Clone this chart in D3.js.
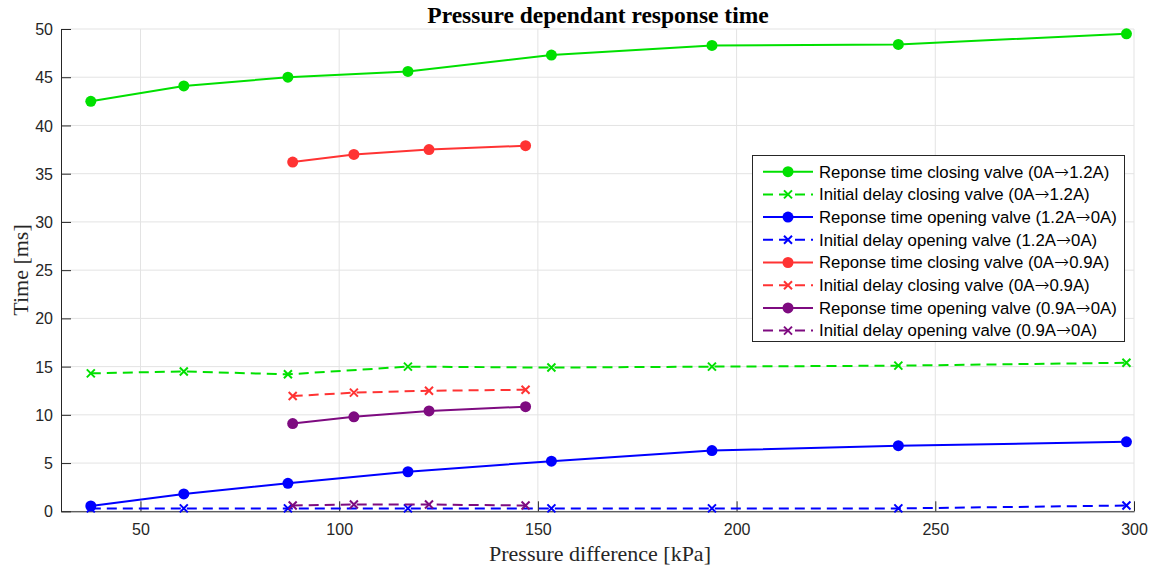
<!DOCTYPE html>
<html>
<head>
<meta charset="utf-8">
<script src="https://cdn.jsdelivr.net/npm/d3@7"></script>
<style>
  body { margin: 0; background: #fff; }
</style>
</head>
<body>
<div id="viz1"></div>
<script>
// pressure points (kPa)
let pressure12 = [37.5, 60.9, 87.1, 117.3, 153.4, 193.8, 240.7, 298.1];
let pressure09 = [88.3, 103.7, 122.6, 146.9];

// times (ms)
let respClose12 = [42.5, 44.1, 45.0, 45.6, 47.3, 48.3, 48.4, 49.5];
let delayClose12 = [14.3, 14.5, 14.2, 15.0, 14.9, 15.0, 15.1, 15.4];
let respOpen12 = [0.55, 1.8, 2.9, 4.1, 5.2, 6.3, 6.8, 7.2];
let delayOpen12 = [0.3, 0.3, 0.3, 0.3, 0.3, 0.3, 0.3, 0.6];
let respClose09 = [36.2, 37.0, 37.5, 37.9];
let delayClose09 = [11.95, 12.3, 12.5, 12.6];
let respOpen09 = [9.1, 9.8, 10.4, 10.85];
let delayOpen09 = [0.6, 0.7, 0.7, 0.6];

let xTicks = [50, 100, 150, 200, 250, 300];
let yTicks = [0, 5, 10, 15, 20, 25, 30, 35, 40, 45, 50];

// legend labels split round the arrow: [before, after]
let seriesNames = [
  ["Reponse time closing valve (0A", "1.2A)"],
  ["Initial delay closing valve (0A", "1.2A)"],
  ["Reponse time opening valve (1.2A", "0A)"],
  ["Initial delay opening valve (1.2A", "0A)"],
  ["Reponse time closing valve (0A", "0.9A)"],
  ["Initial delay closing valve (0A", "0.9A)"],
  ["Reponse time opening valve (0.9A", "0A)"],
  ["Initial delay opening valve (0.9A", "0A)"]
];

let w = 1153;
let h = 569;
let padLeft = 61, padRight = 1134, padTop = 29, padBottom = 511.3;

let colGreen = "#00e000", colBlue = "#0000ff", colRed = "#ff3333", colPurple = "#7e0b80";

let series = [
  { name: seriesNames[0], xs: pressure12, ys: respClose12, color: colGreen, dashed: false },
  { name: seriesNames[1], xs: pressure12, ys: delayClose12, color: colGreen, dashed: true },
  { name: seriesNames[2], xs: pressure12, ys: respOpen12, color: colBlue, dashed: false },
  { name: seriesNames[3], xs: pressure12, ys: delayOpen12, color: colBlue, dashed: true },
  { name: seriesNames[4], xs: pressure09, ys: respClose09, color: colRed, dashed: false },
  { name: seriesNames[5], xs: pressure09, ys: delayClose09, color: colRed, dashed: true },
  { name: seriesNames[6], xs: pressure09, ys: respOpen09, color: colPurple, dashed: false },
  { name: seriesNames[7], xs: pressure09, ys: delayOpen09, color: colPurple, dashed: true }
];

let viz = d3.select("#viz1")
  .append("svg")
    .attr("width", w)
    .attr("height", h)
    .style("display", "block")
;

let xScale = d3.scaleLinear().domain([30, 300]).range([padLeft, padRight]);
let yScale = d3.scaleLinear().domain([0, 50]).range([padBottom, padTop]);

// grid
let grid = viz.append("g").attr("class", "grid");
grid.selectAll(".gx").data(xTicks).enter()
  .append("line")
    .attr("x1", d => xScale(d)).attr("x2", d => xScale(d))
    .attr("y1", padTop).attr("y2", padBottom)
    .attr("stroke", "#e3e3e3").attr("stroke-width", 1);
grid.selectAll(".gy").data(yTicks).enter()
  .append("line")
    .attr("x1", padLeft).attr("x2", padRight)
    .attr("y1", d => yScale(d)).attr("y2", d => yScale(d))
    .attr("stroke", "#e3e3e3").attr("stroke-width", 1);

// axes (ticks point inward like matlab)
let xAxisGroup = viz.append("g").attr("class", "xAxisGroup")
  .attr("transform", "translate(0," + padBottom + ")");
xAxisGroup.call(d3.axisBottom(xScale).tickValues(xTicks).tickSize(-10).tickSizeOuter(0).tickPadding(12));
let yAxisGroup = viz.append("g").attr("class", "yAxisGroup")
  .attr("transform", "translate(" + padLeft + ",0)");
yAxisGroup.call(d3.axisLeft(yScale).tickValues(yTicks).tickSize(-10).tickSizeOuter(0).tickPadding(8));

viz.selectAll(".xAxisGroup path, .yAxisGroup path, .xAxisGroup line, .yAxisGroup line")
  .attr("stroke", "#262626");
viz.selectAll(".xAxisGroup text, .yAxisGroup text")
  .attr("fill", "#262626")
  .style("font-family", "'Liberation Sans', Arial, sans-serif")
  .style("font-size", "16px");
yAxisGroup.selectAll("text").attr("dy", "0.35em");

// lines + markers
let lineMaker = d3.line()
  .x(d => xScale(d[0]))
  .y(d => yScale(d[1]));

let graphGroup = viz.append("g").attr("class", "graphGroup");

series.forEach(s => {
  let pts = s.xs.map((x, i) => [x, s.ys[i]]);
  graphGroup.append("path")
    .attr("d", lineMaker(pts))
    .attr("fill", "none")
    .attr("stroke", s.color)
    .attr("stroke-width", 2)
    .attr("stroke-dasharray", s.dashed ? "10,6" : null);
  if (s.dashed) {
    graphGroup.selectAll(null).data(pts).enter()
      .append("path")
        .attr("d", "M-4,-4L4,4M-4,4L4,-4")
        .attr("transform", d => "translate(" + xScale(d[0]) + "," + yScale(d[1]) + ")")
        .attr("stroke", s.color)
        .attr("stroke-width", 2)
        .attr("fill", "none");
  } else {
    graphGroup.selectAll(null).data(pts).enter()
      .append("circle")
        .attr("cx", d => xScale(d[0]))
        .attr("cy", d => yScale(d[1]))
        .attr("r", 5.5)
        .attr("fill", s.color);
  }
});

// title and labels
viz.append("text")
  .attr("x", 598).attr("y", 23)
  .attr("text-anchor", "middle")
  .style("font-family", "'Liberation Serif', 'Times New Roman', serif")
  .style("font-weight", "bold")
  .style("font-size", "23.5px")
  .text("Pressure dependant response time");

viz.append("text")
  .attr("x", 600).attr("y", 561)
  .attr("text-anchor", "middle")
  .attr("fill", "#262626")
  .style("font-family", "'Liberation Serif', 'Times New Roman', serif")
  .style("font-size", "22px")
  .text("Pressure difference [kPa]");

viz.append("text")
  .attr("transform", "rotate(-90)")
  .attr("x", -270).attr("y", 28)
  .attr("text-anchor", "middle")
  .attr("fill", "#262626")
  .style("font-family", "'Liberation Serif', 'Times New Roman', serif")
  .style("font-size", "22px")
  .text("Time [ms]");

// legend
let legend = viz.append("g").attr("class", "legend");
legend.append("rect")
  .attr("x", 752.5).attr("y", 155.5)
  .attr("width", 372).attr("height", 186)
  .attr("fill", "#fff")
  .attr("stroke", "#262626")
  .attr("stroke-width", 1);

let rows = legend.selectAll(".row").data(series).enter()
  .append("g")
    .attr("class", "row")
    .attr("transform", (d, i) => "translate(0," + (171.7 + i * 22.7) + ")");

rows.append("line")
  .attr("x1", 763).attr("x2", 813)
  .attr("y1", 0).attr("y2", 0)
  .attr("stroke", d => d.color)
  .attr("stroke-width", 2)
  .attr("stroke-dasharray", d => d.dashed ? "10,6" : null);
rows.filter(d => !d.dashed).append("circle")
  .attr("cx", 788).attr("cy", 0).attr("r", 5.5)
  .attr("fill", d => d.color);
rows.filter(d => d.dashed).append("path")
  .attr("d", "M784,-4L792,4M784,4L792,-4")
  .attr("stroke", d => d.color)
  .attr("stroke-width", 2);

let legendText = rows.append("text")
  .attr("x", 819).attr("y", 0).attr("dy", "0.35em")
  .attr("fill", "#000")
  .style("font-family", "'Liberation Sans', Arial, sans-serif")
  .style("font-size", "16.8px");
legendText.append("tspan").text(d => d.name[0]);
legendText.append("tspan")
  .style("font-family", "'DejaVu Sans', sans-serif")
  .style("font-size", "18px")
  .style("font-weight", "200")
  .text("\u2192");
legendText.append("tspan").text(d => d.name[1]);
</script>
</body>
</html>
